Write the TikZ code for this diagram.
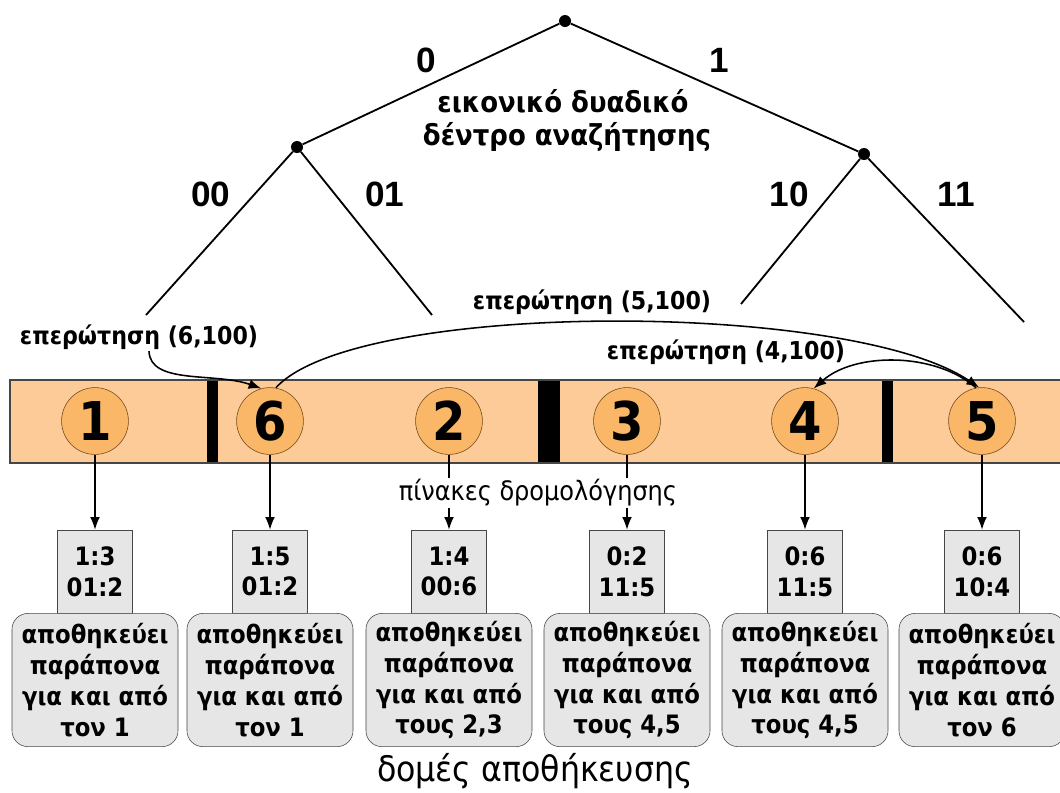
\documentclass[tikz,border=0pt]{standalone}
\usepackage{fontspec}
\setmainfont{DejaVu Sans Condensed}[BoldFont={DejaVu Sans Condensed Bold}]
\newfontfamily\arialfont{Liberation Sans}
\usepackage{xcolor}
\usetikzlibrary{arrows.meta}
\usetikzlibrary{shapes}
\usetikzlibrary{positioning}

\definecolor{bandcol}{RGB}{252,203,152}
\definecolor{peercol}{RGB}{251,183,104}
\definecolor{peerline}{RGB}{110,70,30}
\definecolor{boxcol}{RGB}{230,230,230}
\definecolor{edgecol}{RGB}{70,70,70}

\begin{document}
\begin{tikzpicture}[x=0.025cm,y=-0.025cm,
  >={Latex[length=9pt,width=7pt]},
  dot/.style={circle,fill=black,inner sep=0pt,minimum size=0.3cm},
  treeline/.style={line width=1.3pt},
  bit/.style={font=\arialfont\bfseries\fontsize{25}{25}\selectfont},
  peer/.style={circle,draw=peerline,fill=peercol,minimum size=1.67cm,inner sep=0pt,
    font=\bfseries\fontsize{38}{38}\selectfont},
  rtable/.style={draw=edgecol,fill=boxcol,minimum width=1.875cm,minimum height=2.07cm,
    inner sep=0pt,align=center,font=\bfseries\fontsize{18}{22}\selectfont},
  store/.style={draw=edgecol,fill=boxcol,rounded corners=0.4cm,minimum width=4.15cm,
    minimum height=3.33cm,inner sep=0pt,align=center,font=\bfseries\fontsize{18}{22}\selectfont},
  query/.style={inner sep=1pt,font=\bfseries\fontsize{17.5}{17.5}\selectfont},
  link/.style={->,line width=1.1pt}]
\useasboundingbox (0,0) rectangle (1060,792);

% binary search tree on top
\node[dot] (root) at (565,21) {};
\node[dot] (n0) at (297,147) {};
\node[dot] (n1) at (864,154) {};
\coordinate (l00) at (146,315);
\coordinate (l01) at (432,315);
\coordinate (l10) at (741,304);
\coordinate (l11) at (1024,322);
\draw[treeline] (root) -- (n0);
\draw[treeline] (root) -- (n1);
\draw[treeline] (n0) -- (l00);
\draw[treeline] (n0) -- (l01);
\draw[treeline] (n1) -- (l10);
\draw[treeline] (n1) -- (l11);
\node[bit] (b0) at (426,60) {0};
\node[bit] (b1) at (719,60) {1};
\node[bit] (b00) at (211,194) {00};
\node[bit] (b01) at (385,194) {01};
\node[bit] (b10) at (789,194) {10};
\node[bit] (b11) at (956,194) {11};
\node[font=\bfseries\fontsize{20.5}{20.5}\selectfont] (tree1) at (563,101) {εικονικό δυαδικό};
\node[font=\bfseries\fontsize{20.5}{20.5}\selectfont] (tree2) at (567,137) {δέντρο αναζήτησης};

% the ring of peers
\fill[bandcol] (10,380) rectangle (1065,463);
\draw[edgecol,line width=0.8pt] (1065,380) -- (10,380) -- (10,463) -- (1065,463);
\fill (207,381) rectangle (218,462);
\fill (538,381) rectangle (560,462);
\fill (882,381) rectangle (893,462);

\node[peer] (p1) at (95,421) {1};
\node[peer] (p6) at (270,421) {6};
\node[peer] (p2) at (449,421) {2};
\node[peer] (p3) at (627,421) {3};
\node[peer] (p4) at (805,421) {4};
\node[peer] (p5) at (982,421) {5};

% routing tables and storage
\foreach \p/\tab/\txt in {1/{1:3\\01:2}/{τον 1},
                          6/{1:5\\01:2}/{τον 1},
                          2/{1:4\\00:6}/{τους 2,3},
                          3/{0:2\\11:5}/{τους 4,5},
                          4/{0:6\\11:5}/{τους 4,5},
                          5/{0:6\\10:4}/{τον 6}}{
  \node[rtable] (rt\p) at ([yshift=-3.76cm]p\p) {\tab};
  \node[store,below=0pt of rt\p] (st\p) {αποθηκεύει\\παράπονα\\για και από\\\txt};
  \draw[link] (p\p) -- (rt\p);
}
\node[fill=white,inner sep=1pt,font=\fontsize{19}{19}\selectfont] (rtlabel) at (538,493) {πίνακες δρομολόγησης};
\node[font=\fontsize{25}{25}\selectfont] (stlabel) at (535,771) {δομές αποθήκευσης};

% queries
\node[query] (q6) at (139,337) {επερώτηση (6,100)};
\node[query] (q5) at (592,302) {επερώτηση (5,100)};
\node[query] (q4) at (726,352) {επερώτηση (4,100)};
\draw[link] ([xshift=0.25cm]q6.south) .. controls (150,385) and (215,372) .. (p6.105);
\draw[link] (p6.80) .. controls (355,300) and (850,300) .. (p5.95);
\draw[link] (p5.100) .. controls (935,352) and (855,352) .. (p4.75);
\end{tikzpicture}
\end{document}
